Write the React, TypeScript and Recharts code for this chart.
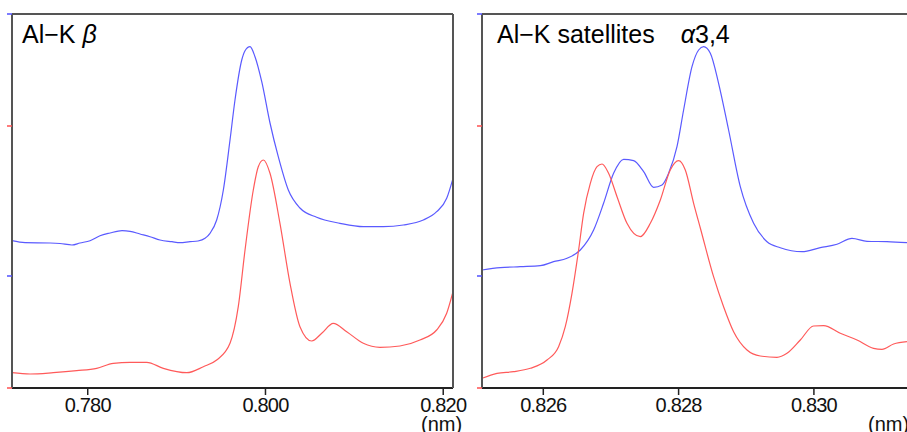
import React from 'react';
import { LineChart, Line, XAxis, YAxis } from 'recharts';

// Al-K beta panel (wavelength nm, intensity arb. units)
const betaBlueX = [0.77148, 0.77295, 0.77576, 0.77688, 0.77823, 0.77913, 0.78026, 0.78138, 0.78251, 0.78386, 0.78476, 0.78588, 0.78701, 0.78813, 0.78948, 0.79038, 0.79151, 0.79241, 0.7932, 0.79376, 0.79451, 0.79526, 0.79601, 0.79657, 0.79733, 0.7977, 0.79826, 0.79882, 0.79958, 0.80051, 0.80144, 0.80257, 0.80388, 0.80576, 0.80838, 0.81101, 0.81326, 0.81551, 0.81776, 0.81926, 0.82039, 0.8211];
const betaBlueY = [147.3, 145.3, 145, 144.5, 143, 145, 147.3, 152.3, 155, 157.3, 156.7, 154, 151.3, 148, 146.3, 145.3, 146.3, 147, 149.7, 154.7, 168, 198, 248, 288, 328, 337.3, 341.3, 331.3, 306.3, 265, 231.3, 198, 180, 170.7, 164.7, 161.3, 161.3, 163, 168, 176.3, 189.7, 209.7];
const betaRedX = [0.77148, 0.77351, 0.77613, 0.77876, 0.78101, 0.78288, 0.78476, 0.78664, 0.78851, 0.79114, 0.79301, 0.79451, 0.79601, 0.79694, 0.7977, 0.79863, 0.79919, 0.79976, 0.80051, 0.80163, 0.80276, 0.80388, 0.8052, 0.80633, 0.80763, 0.80914, 0.81101, 0.81288, 0.81513, 0.81738, 0.81926, 0.82039, 0.8211];
const betaRedY = [15.3, 14, 15.3, 17.3, 19.7, 24.7, 25.7, 25.7, 19.7, 15.3, 21.3, 28, 44.7, 81.3, 138, 198, 221.3, 228, 214.7, 164.7, 104.7, 61.3, 47, 54.7, 64.7, 56.3, 44.7, 40.7, 42, 48, 58, 74.7, 96.3];

// Al-K satellites alpha 3,4 panel
const satBlueX = [0.825094, 0.825365, 0.82566, 0.825956, 0.826152, 0.826351, 0.826547, 0.826744, 0.826891, 0.827039, 0.827187, 0.827335, 0.827483, 0.82763, 0.827755, 0.827852, 0.827976, 0.828074, 0.828198, 0.828296, 0.82837, 0.828469, 0.828591, 0.828739, 0.828912, 0.829109, 0.829307, 0.829503, 0.829824, 0.830094, 0.830341, 0.830563, 0.830785, 0.83108, 0.831376];
const satBlueY = [118, 120.3, 121.3, 122.3, 126.3, 129.7, 138, 158, 184.7, 214.7, 228.7, 227.3, 216.3, 200.7, 203, 214.7, 241.3, 278, 321.3, 338, 341.3, 334.7, 304.7, 258, 201.3, 164.7, 146.3, 140.3, 136.3, 140.3, 143.7, 149.7, 146.7, 146.3, 145.3];
const satRedX = [0.825094, 0.825316, 0.825561, 0.825808, 0.826055, 0.826226, 0.826325, 0.826424, 0.826522, 0.826596, 0.826695, 0.826794, 0.826868, 0.826965, 0.82709, 0.827237, 0.827434, 0.827582, 0.82773, 0.827877, 0.828, 0.828099, 0.828222, 0.828321, 0.828517, 0.828665, 0.828813, 0.829011, 0.829208, 0.829454, 0.829602, 0.829799, 0.829995, 0.830143, 0.83039, 0.830637, 0.830882, 0.831006, 0.831178, 0.831376];
const satRedY = [9.7, 14.7, 16.3, 19.7, 28, 41.3, 61.3, 94.7, 138, 174.7, 204.7, 221.3, 224, 214.7, 191.3, 164.7, 151.3, 164.7, 188, 218, 227.3, 218, 184.7, 160, 111.3, 81.3, 56.3, 38, 32, 30.7, 34.7, 48, 62, 62.3, 54.7, 48, 39.7, 38.7, 44, 46.3];

const betaTicks = [0.78, 0.8, 0.82];
const satTicks = [0.826, 0.828, 0.83];
// small coloured marks on the intensity axis
const markValues = [0, 112, 262, 374];
const markColors = ['#ff5050', '#5050ff', '#ff5050', '#5050ff'];

const RED = '#ff5a5a';
const BLUE = '#5a5aff';
const FONT = '"Liberation Sans", Arial, sans-serif';

const zip = (xs: number[], ys: number[]) => xs.map((x, i) => ({ x, y: ys[i] }));

const Mark = (props: any) => {
  const { x, y, payload } = props;
  const i = markValues.indexOf(payload.value);
  return <line x1={x - 5} x2={x} y1={y} y2={y} stroke={markColors[i]} strokeWidth={1.5} />;
};

interface PanelProps {
  blue: { x: number; y: number }[];
  red: { x: number; y: number }[];
  domain: [number, number];
  ticks: number[];
  width: number;
  right: number;
  rightBorder: boolean;
}

const Panel: React.FC<PanelProps> = ({ blue, red, domain, ticks, width, right, rightBorder }) => (
  <LineChart width={width} height={432} margin={{ top: 13, right, left: 11, bottom: 14 }}>
    <XAxis
      dataKey="x"
      type="number"
      domain={domain}
      ticks={ticks}
      interval={0}
      allowDataOverflow
      tickFormatter={(v: number) => v.toFixed(3)}
      height={30}
      tickSize={7}
      tickMargin={3}
      axisLine={{ stroke: '#222', strokeWidth: 2 }}
      tickLine={{ stroke: '#222', strokeWidth: 1.5 }}
      tick={{ fill: '#111', fontSize: 20, fontFamily: FONT, letterSpacing: -0.8 }}
    />
    <XAxis xAxisId="top" orientation="top" type="number" domain={domain} allowDataOverflow height={1} tick={false} tickLine={false} axisLine={{ stroke: '#555', strokeWidth: 2 }} />
    <YAxis
      type="number"
      domain={[0, 374]}
      allowDataOverflow
      ticks={markValues}
      interval={0}
      width={1}
      tickSize={0}
      tickMargin={0}
      tickLine={false}
      tick={<Mark />}
      axisLine={{ stroke: '#555', strokeWidth: 2 }}
    />
    {rightBorder && (
      <YAxis yAxisId="r" orientation="right" width={1} tick={false} tickLine={false} axisLine={{ stroke: '#555', strokeWidth: 2 }} />
    )}
    <Line data={blue} dataKey="y" type="monotone" stroke={BLUE} strokeWidth={1.2} dot={false} isAnimationActive={false} />
    <Line data={red} dataKey="y" type="monotone" stroke={RED} strokeWidth={1.2} dot={false} isAnimationActive={false} />
  </LineChart>
);

const titleStyle: React.CSSProperties = {
  position: 'absolute',
  top: 22,
  fontFamily: FONT,
  fontSize: 25,
  lineHeight: 1,
  color: '#000',
  whiteSpace: 'pre',
};

const unitStyle: React.CSSProperties = {
  position: 'absolute',
  top: 414,
  fontFamily: FONT,
  fontSize: 20,
  lineHeight: 1,
  color: '#111',
  whiteSpace: 'pre',
};

export default function App() {
  return (
    <div style={{ position: 'fixed', left: 0, top: 0, width: 907, height: 432, overflow: 'hidden', background: '#fff' }}>
      <div style={{ position: 'absolute', left: 0, top: 0 }}>
        <Panel blue={zip(betaBlueX, betaBlueY)} red={zip(betaRedX, betaRedY)} domain={[0.77148, 0.8211]} ticks={betaTicks} width={470} right={16} rightBorder />
      </div>
      <div style={{ position: 'absolute', left: 470, top: 0 }}>
        <Panel blue={zip(satBlueX, satBlueY)} red={zip(satRedX, satRedY)} domain={[0.825094, 0.831376]} ticks={satTicks} width={437} right={0} rightBorder={false} />
      </div>
      <div style={{ ...titleStyle, left: 22 }}>
        Al−K <i>β</i>
      </div>
      <div style={{ ...titleStyle, left: 497 }}>
        Al−K satellites<span style={{ marginLeft: 26 }}><i>α</i>3,4</span>
      </div>
      <div style={{ ...unitStyle, left: 421 }}>(nm)</div>
      <div style={{ ...unitStyle, left: 868 }}>(nm)</div>
    </div>
  );
}
